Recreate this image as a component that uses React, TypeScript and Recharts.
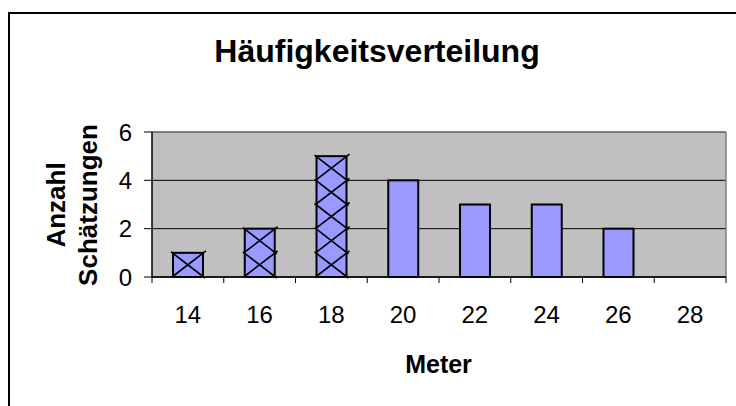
import { Bar, BarChart, CartesianGrid, ReferenceLine, XAxis, YAxis } from "recharts";

const meters = [14, 16, 18, 20, 22, 24, 26, 28];
const counts = [1, 2, 5, 4, 3, 3, 2, 0];
const hatchedMeters = [14, 16, 18];
const yTicks = [0, 2, 4, 6];

const data = meters.map((m, i) => ({ meter: m, count: counts[i] }));

// tick marks sit between the classes, labels in the middle of them
const boundaryTicks = [...meters.map((m) => m - 1), meters[meters.length - 1] + 1];
const xTicks = [...boundaryTicks, ...meters].sort((a, b) => a - b);

const font = "Arial, 'Liberation Sans', sans-serif";

function XTick({ x, y, payload }: any) {
  const v = payload.value as number;
  if (boundaryTicks.includes(v)) {
    return <line x1={x} y1={y} x2={x} y2={y + 6} stroke="#000" strokeWidth={1} />;
  }
  return (
    <text x={x} y={y + 46} textAnchor="middle" fontSize={24} fontFamily={font} fill="#000">
      {v}
    </text>
  );
}

function HatchBar(props: any) {
  const { x, y, width, height, payload } = props;
  if (!height || height <= 0) return null;
  const units = payload.count as number;
  const seg = height / units;
  const hatched = hatchedMeters.includes(payload.meter);
  return (
    <g>
      <rect x={x} y={y} width={width} height={height} fill="#9999FF" stroke="#000" strokeWidth={2} />
      {hatched &&
        Array.from({ length: units }, (_, i) => {
          const top = y + i * seg;
          return (
            <g key={i} stroke="#000" strokeWidth={1.6}>
              <line x1={x - 2} y1={top - 1} x2={x + width + 2} y2={top + seg + 1} />
              <line x1={x - 1} y1={top + seg} x2={x + width + 3} y2={top - 2} />
            </g>
          );
        })}
    </g>
  );
}

export default function App() {
  return (
    <div
      style={{
        position: "fixed",
        left: 0,
        top: 0,
        width: 736,
        height: 406,
        overflow: "hidden",
        background: "#fff",
      }}
    >
      <div
        style={{
          position: "absolute",
          left: 8,
          top: 12,
          width: 800,
          height: 500,
          border: "2px solid #000",
        }}
      />
      <div style={{ position: "absolute", left: 0, top: 0 }}>
        <BarChart
          width={736}
          height={406}
          data={data}
          margin={{ top: 132, right: 10, left: 92, bottom: 99 }}
        >
          <CartesianGrid fill="#C0C0C0" stroke="#000" vertical={false} />
          <XAxis
            dataKey="meter"
            type="number"
            domain={[13, 29]}
            ticks={xTicks}
            interval={0}
            height={30}
            tickSize={0}
            tickMargin={0}
            tickLine={false}
            axisLine={{ stroke: "#000", strokeWidth: 1.5 }}
            tick={<XTick />}
          />
          <YAxis
            domain={[0, 6]}
            ticks={yTicks}
            width={60}
            tickSize={8}
            tickMargin={12}
            axisLine={{ stroke: "#000", strokeWidth: 1.5 }}
            tickLine={{ stroke: "#000" }}
            tick={{ fontSize: 24, fontFamily: font, fill: "#000" }}
          />
          <ReferenceLine y={6} stroke="#808080" strokeWidth={1.5} />
          <ReferenceLine x={29} stroke="#808080" strokeWidth={1.5} />
          <Bar dataKey="count" barSize={30} shape={<HatchBar />} isAnimationActive={false} />
        </BarChart>
      </div>
      <svg
        width={736}
        height={406}
        style={{ position: "absolute", left: 0, top: 0, pointerEvents: "none" }}
      >
        <text x={377} y={62} textAnchor="middle" fontSize={32} fontWeight="bold" fontFamily={font}>
          Häufigkeitsverteilung
        </text>
        <text
          transform="translate(65,205) rotate(-90)"
          textAnchor="middle"
          fontSize={26}
          fontWeight="bold"
          fontFamily={font}
        >
          Anzahl
        </text>
        <text
          transform="translate(97,205) rotate(-90)"
          textAnchor="middle"
          fontSize={26}
          fontWeight="bold"
          fontFamily={font}
        >
          Schätzungen
        </text>
        <text x={438.5} y={373} textAnchor="middle" fontSize={25} fontWeight="bold" fontFamily={font}>
          Meter
        </text>
      </svg>
    </div>
  );
}
